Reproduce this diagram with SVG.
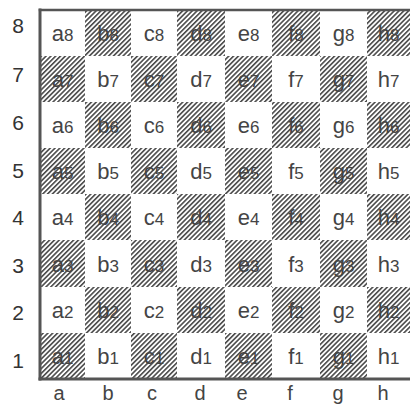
<svg xmlns="http://www.w3.org/2000/svg" width="410" height="404" viewBox="0 0 410 404">
<defs>
<pattern id="hatch" patternUnits="userSpaceOnUse" width="3.4" height="3.4" patternTransform="rotate(45)">
<rect x="0" y="0" width="1.6" height="3.4" fill="#4a4a4a"/>
</pattern>
<style>
.dark{fill:url(#hatch);}
.light{fill:#ffffff;}
.sq{font-family:"Liberation Sans",Arial,sans-serif;font-size:22px;fill:#444;text-anchor:middle;}
.d{font-size:17px;}
.lab{font-family:"Liberation Sans",Arial,sans-serif;font-size:21px;fill:#333;text-anchor:middle;}
.file{font-family:"Liberation Sans",Arial,sans-serif;font-size:20px;fill:#444;text-anchor:middle;}
.border{stroke:#555;fill:none;stroke-linecap:square;}
</style>
</defs>
<rect width="410" height="404" fill="#fff"/>
<g id="squares">
<!-- rank 8: y 10-56 -->
<g id="a8"><rect class="light" x="40" y="10" width="45" height="46"/><text class="sq" x="62.5" y="41">a<tspan class="d">8</tspan></text></g>
<g id="b8"><rect class="dark" x="85" y="10" width="46" height="46"/><text class="sq" x="108" y="41">b<tspan class="d">8</tspan></text></g>
<g id="c8"><rect class="light" x="131" y="10" width="46" height="46"/><text class="sq" x="154" y="41">c<tspan class="d">8</tspan></text></g>
<g id="d8"><rect class="dark" x="177" y="10" width="48" height="46"/><text class="sq" x="201" y="41">d<tspan class="d">8</tspan></text></g>
<g id="e8"><rect class="light" x="225" y="10" width="47" height="46"/><text class="sq" x="248.5" y="41">e<tspan class="d">8</tspan></text></g>
<g id="f8"><rect class="dark" x="272" y="10" width="48" height="46"/><text class="sq" x="296" y="41">f<tspan class="d">8</tspan></text></g>
<g id="g8"><rect class="light" x="320" y="10" width="47" height="46"/><text class="sq" x="343.5" y="41">g<tspan class="d">8</tspan></text></g>
<g id="h8"><rect class="dark" x="367" y="10" width="43" height="46"/><text class="sq" x="388.5" y="41">h<tspan class="d">8</tspan></text></g>
<!-- rank 7: y 56-102 -->
<g id="a7"><rect class="dark" x="40" y="56" width="45" height="46"/><text class="sq" x="62.5" y="87">a<tspan class="d">7</tspan></text></g>
<g id="b7"><rect class="light" x="85" y="56" width="46" height="46"/><text class="sq" x="108" y="87">b<tspan class="d">7</tspan></text></g>
<g id="c7"><rect class="dark" x="131" y="56" width="46" height="46"/><text class="sq" x="154" y="87">c<tspan class="d">7</tspan></text></g>
<g id="d7"><rect class="light" x="177" y="56" width="48" height="46"/><text class="sq" x="201" y="87">d<tspan class="d">7</tspan></text></g>
<g id="e7"><rect class="dark" x="225" y="56" width="47" height="46"/><text class="sq" x="248.5" y="87">e<tspan class="d">7</tspan></text></g>
<g id="f7"><rect class="light" x="272" y="56" width="48" height="46"/><text class="sq" x="296" y="87">f<tspan class="d">7</tspan></text></g>
<g id="g7"><rect class="dark" x="320" y="56" width="47" height="46"/><text class="sq" x="343.5" y="87">g<tspan class="d">7</tspan></text></g>
<g id="h7"><rect class="light" x="367" y="56" width="43" height="46"/><text class="sq" x="388.5" y="87">h<tspan class="d">7</tspan></text></g>
<!-- rank 6: y 102-148 -->
<g id="a6"><rect class="light" x="40" y="102" width="45" height="46"/><text class="sq" x="62.5" y="133">a<tspan class="d">6</tspan></text></g>
<g id="b6"><rect class="dark" x="85" y="102" width="46" height="46"/><text class="sq" x="108" y="133">b<tspan class="d">6</tspan></text></g>
<g id="c6"><rect class="light" x="131" y="102" width="46" height="46"/><text class="sq" x="154" y="133">c<tspan class="d">6</tspan></text></g>
<g id="d6"><rect class="dark" x="177" y="102" width="48" height="46"/><text class="sq" x="201" y="133">d<tspan class="d">6</tspan></text></g>
<g id="e6"><rect class="light" x="225" y="102" width="47" height="46"/><text class="sq" x="248.5" y="133">e<tspan class="d">6</tspan></text></g>
<g id="f6"><rect class="dark" x="272" y="102" width="48" height="46"/><text class="sq" x="296" y="133">f<tspan class="d">6</tspan></text></g>
<g id="g6"><rect class="light" x="320" y="102" width="47" height="46"/><text class="sq" x="343.5" y="133">g<tspan class="d">6</tspan></text></g>
<g id="h6"><rect class="dark" x="367" y="102" width="43" height="46"/><text class="sq" x="388.5" y="133">h<tspan class="d">6</tspan></text></g>
<!-- rank 5: y 148-194 -->
<g id="a5"><rect class="dark" x="40" y="148" width="45" height="46"/><text class="sq" x="62.5" y="179">a<tspan class="d">5</tspan></text></g>
<g id="b5"><rect class="light" x="85" y="148" width="46" height="46"/><text class="sq" x="108" y="179">b<tspan class="d">5</tspan></text></g>
<g id="c5"><rect class="dark" x="131" y="148" width="46" height="46"/><text class="sq" x="154" y="179">c<tspan class="d">5</tspan></text></g>
<g id="d5"><rect class="light" x="177" y="148" width="48" height="46"/><text class="sq" x="201" y="179">d<tspan class="d">5</tspan></text></g>
<g id="e5"><rect class="dark" x="225" y="148" width="47" height="46"/><text class="sq" x="248.5" y="179">e<tspan class="d">5</tspan></text></g>
<g id="f5"><rect class="light" x="272" y="148" width="48" height="46"/><text class="sq" x="296" y="179">f<tspan class="d">5</tspan></text></g>
<g id="g5"><rect class="dark" x="320" y="148" width="47" height="46"/><text class="sq" x="343.5" y="179">g<tspan class="d">5</tspan></text></g>
<g id="h5"><rect class="light" x="367" y="148" width="43" height="46"/><text class="sq" x="388.5" y="179">h<tspan class="d">5</tspan></text></g>
<!-- rank 4: y 194-240 -->
<g id="a4"><rect class="light" x="40" y="194" width="45" height="46"/><text class="sq" x="62.5" y="225">a<tspan class="d">4</tspan></text></g>
<g id="b4"><rect class="dark" x="85" y="194" width="46" height="46"/><text class="sq" x="108" y="225">b<tspan class="d">4</tspan></text></g>
<g id="c4"><rect class="light" x="131" y="194" width="46" height="46"/><text class="sq" x="154" y="225">c<tspan class="d">4</tspan></text></g>
<g id="d4"><rect class="dark" x="177" y="194" width="48" height="46"/><text class="sq" x="201" y="225">d<tspan class="d">4</tspan></text></g>
<g id="e4"><rect class="light" x="225" y="194" width="47" height="46"/><text class="sq" x="248.5" y="225">e<tspan class="d">4</tspan></text></g>
<g id="f4"><rect class="dark" x="272" y="194" width="48" height="46"/><text class="sq" x="296" y="225">f<tspan class="d">4</tspan></text></g>
<g id="g4"><rect class="light" x="320" y="194" width="47" height="46"/><text class="sq" x="343.5" y="225">g<tspan class="d">4</tspan></text></g>
<g id="h4"><rect class="dark" x="367" y="194" width="43" height="46"/><text class="sq" x="388.5" y="225">h<tspan class="d">4</tspan></text></g>
<!-- rank 3: y 240-287 -->
<g id="a3"><rect class="dark" x="40" y="240" width="45" height="47"/><text class="sq" x="62.5" y="271.5">a<tspan class="d">3</tspan></text></g>
<g id="b3"><rect class="light" x="85" y="240" width="46" height="47"/><text class="sq" x="108" y="271.5">b<tspan class="d">3</tspan></text></g>
<g id="c3"><rect class="dark" x="131" y="240" width="46" height="47"/><text class="sq" x="154" y="271.5">c<tspan class="d">3</tspan></text></g>
<g id="d3"><rect class="light" x="177" y="240" width="48" height="47"/><text class="sq" x="201" y="271.5">d<tspan class="d">3</tspan></text></g>
<g id="e3"><rect class="dark" x="225" y="240" width="47" height="47"/><text class="sq" x="248.5" y="271.5">e<tspan class="d">3</tspan></text></g>
<g id="f3"><rect class="light" x="272" y="240" width="48" height="47"/><text class="sq" x="296" y="271.5">f<tspan class="d">3</tspan></text></g>
<g id="g3"><rect class="dark" x="320" y="240" width="47" height="47"/><text class="sq" x="343.5" y="271.5">g<tspan class="d">3</tspan></text></g>
<g id="h3"><rect class="light" x="367" y="240" width="43" height="47"/><text class="sq" x="388.5" y="271.5">h<tspan class="d">3</tspan></text></g>
<!-- rank 2: y 287-333 -->
<g id="a2"><rect class="light" x="40" y="287" width="45" height="46"/><text class="sq" x="62.5" y="318">a<tspan class="d">2</tspan></text></g>
<g id="b2"><rect class="dark" x="85" y="287" width="46" height="46"/><text class="sq" x="108" y="318">b<tspan class="d">2</tspan></text></g>
<g id="c2"><rect class="light" x="131" y="287" width="46" height="46"/><text class="sq" x="154" y="318">c<tspan class="d">2</tspan></text></g>
<g id="d2"><rect class="dark" x="177" y="287" width="48" height="46"/><text class="sq" x="201" y="318">d<tspan class="d">2</tspan></text></g>
<g id="e2"><rect class="light" x="225" y="287" width="47" height="46"/><text class="sq" x="248.5" y="318">e<tspan class="d">2</tspan></text></g>
<g id="f2"><rect class="dark" x="272" y="287" width="48" height="46"/><text class="sq" x="296" y="318">f<tspan class="d">2</tspan></text></g>
<g id="g2"><rect class="light" x="320" y="287" width="47" height="46"/><text class="sq" x="343.5" y="318">g<tspan class="d">2</tspan></text></g>
<g id="h2"><rect class="dark" x="367" y="287" width="43" height="46"/><text class="sq" x="388.5" y="318">h<tspan class="d">2</tspan></text></g>
<!-- rank 1: y 333-379 -->
<g id="a1"><rect class="dark" x="40" y="333" width="45" height="46"/><text class="sq" x="62.5" y="364">a<tspan class="d">1</tspan></text></g>
<g id="b1"><rect class="light" x="85" y="333" width="46" height="46"/><text class="sq" x="108" y="364">b<tspan class="d">1</tspan></text></g>
<g id="c1"><rect class="dark" x="131" y="333" width="46" height="46"/><text class="sq" x="154" y="364">c<tspan class="d">1</tspan></text></g>
<g id="d1"><rect class="light" x="177" y="333" width="48" height="46"/><text class="sq" x="201" y="364">d<tspan class="d">1</tspan></text></g>
<g id="e1"><rect class="dark" x="225" y="333" width="47" height="46"/><text class="sq" x="248.5" y="364">e<tspan class="d">1</tspan></text></g>
<g id="f1"><rect class="light" x="272" y="333" width="48" height="46"/><text class="sq" x="296" y="364">f<tspan class="d">1</tspan></text></g>
<g id="g1"><rect class="dark" x="320" y="333" width="47" height="46"/><text class="sq" x="343.5" y="364">g<tspan class="d">1</tspan></text></g>
<g id="h1"><rect class="light" x="367" y="333" width="43" height="46"/><text class="sq" x="388.5" y="364">h<tspan class="d">1</tspan></text></g>
</g>
<g id="border">
<line class="border" x1="40" y1="10" x2="410" y2="10" stroke-width="2.5"/>
<line class="border" x1="40" y1="10" x2="40" y2="379" stroke-width="3"/>
<line class="border" x1="40" y1="379" x2="410" y2="379" stroke-width="3"/>
</g>
<g id="ranks">
<text class="lab" x="18" y="33">8</text>
<text class="lab" x="18" y="82">7</text>
<text class="lab" x="18" y="130">6</text>
<text class="lab" x="18" y="178">5</text>
<text class="lab" x="18" y="225">4</text>
<text class="lab" x="18" y="273">3</text>
<text class="lab" x="18" y="320">2</text>
<text class="lab" x="18" y="368">1</text>
</g>
<g id="files">
<text class="file" x="59" y="400">a</text>
<text class="file" x="108" y="400">b</text>
<text class="file" x="152" y="400">c</text>
<text class="file" x="200" y="400">d</text>
<text class="file" x="242" y="400">e</text>
<text class="file" x="290" y="400">f</text>
<text class="file" x="338" y="400">g</text>
<text class="file" x="383" y="400">h</text>
</g>
</svg>
